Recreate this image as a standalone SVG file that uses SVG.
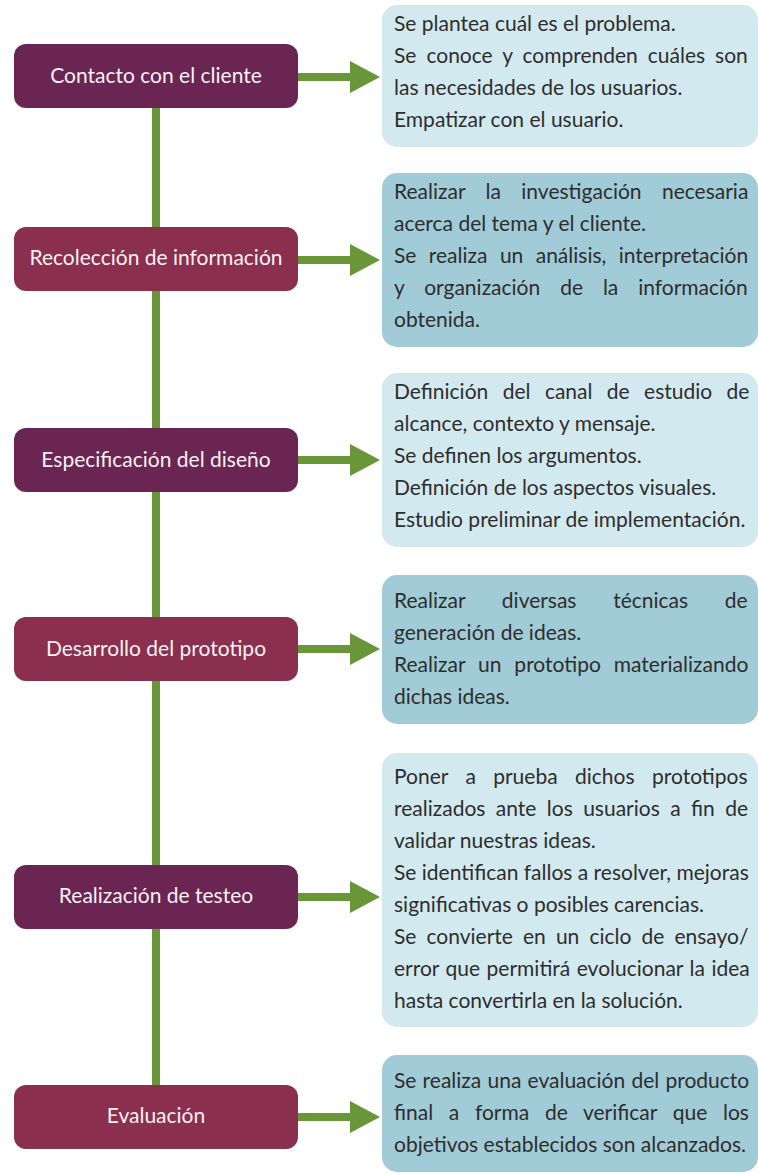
<svg xmlns="http://www.w3.org/2000/svg" width="758" height="1174" viewBox="0 0 758 1174">
<style>
.node{stroke:none}
.n1{fill:#6A2553}
.n2{fill:#8A2F4D}
.lbl{font-family:Lato,"Open Sans","Liberation Sans",sans-serif;font-size:21px;fill:#F7F1F4;text-anchor:middle}
.b1{fill:#D2E9F0}
.b2{fill:#A0CBD7}
.t{font-family:Lato,"Open Sans","Liberation Sans",sans-serif;font-size:21px;fill:#2E2E2E}
.con{fill:#6A963A}
</style>
<g id="connectors">
<rect class="con" x="152" y="100" width="8" height="990"/>
<rect class="con" x="296" y="73" width="56" height="8"/><polygon class="con" points="350,61 380,77 350,93"/>
<rect class="con" x="296" y="256" width="56" height="8"/><polygon class="con" points="350,244 380,260 350,276"/>
<rect class="con" x="296" y="456" width="56" height="8"/><polygon class="con" points="350,444 380,460 350,476"/>
<rect class="con" x="296" y="645" width="56" height="8"/><polygon class="con" points="350,633 380,649 350,665"/>
<rect class="con" x="296" y="893" width="56" height="8"/><polygon class="con" points="350,881 380,897 350,913"/>
<rect class="con" x="296" y="1113" width="56" height="8"/><polygon class="con" points="350,1101 380,1117 350,1133"/>
</g>
<g id="node1"><rect class="node n1" x="14" y="44" width="284" height="64" rx="12"/><text class="lbl" x="156" y="83">Contacto con el cliente</text></g>
<g id="node2"><rect class="node n2" x="14" y="227" width="284" height="64" rx="12"/><text class="lbl" x="156" y="265">Recolección de información</text></g>
<g id="node3"><rect class="node n1" x="14" y="428" width="284" height="64" rx="12"/><text class="lbl" x="156" y="467">Especificación del diseño</text></g>
<g id="node4"><rect class="node n2" x="14" y="617" width="284" height="64" rx="12"/><text class="lbl" x="156" y="656">Desarrollo del prototipo</text></g>
<g id="node5"><rect class="node n1" x="14" y="865" width="284" height="64" rx="12"/><text class="lbl" x="156" y="903">Realización de testeo</text></g>
<g id="node6"><rect class="node n2" x="14" y="1085" width="284" height="64" rx="12"/><text class="lbl" x="156" y="1123">Evaluación</text></g>

<g id="box1"><rect class="b1" x="382" y="5" width="376" height="142" rx="15"/>
<text class="t" x="394" y="31">Se plantea cuál es el problema.</text>
<text class="t" x="394" y="63" word-spacing="4.6"><tspan>Se</tspan> <tspan>conoce</tspan> <tspan>y</tspan> <tspan>comprenden</tspan> <tspan>cuáles</tspan> <tspan>son</tspan></text>
<text class="t" x="394" y="95">las necesidades de los usuarios.</text>
<text class="t" x="394" y="127">Empatizar con el usuario.</text>
</g>
<g id="box2"><rect class="b2" x="382" y="173" width="376" height="174" rx="15"/>
<text class="t" x="394" y="199" word-spacing="15"><tspan>Realizar</tspan> <tspan>la</tspan> <tspan>investigación</tspan> <tspan>necesaria</tspan></text>
<text class="t" x="394" y="231">acerca del tema y el cliente.</text>
<text class="t" x="394" y="263" word-spacing="7"><tspan>Se</tspan> <tspan>realiza</tspan> <tspan>un</tspan> <tspan>análisis,</tspan> <tspan>interpretación</tspan></text>
<text class="t" x="394" y="295" word-spacing="14.5"><tspan>y</tspan> <tspan>organización</tspan> <tspan>de</tspan> <tspan>la</tspan> <tspan>información</tspan></text>
<text class="t" x="394" y="327">obtenida.</text>
</g>
<g id="box3"><rect class="b1" x="382" y="373" width="376" height="174" rx="15"/>
<text class="t" x="394" y="399" word-spacing="9"><tspan>Definición</tspan> <tspan>del</tspan> <tspan>canal</tspan> <tspan>de</tspan> <tspan>estudio</tspan> <tspan>de</tspan></text>
<text class="t" x="394" y="431">alcance, contexto y mensaje.</text>
<text class="t" x="394" y="463">Se definen los argumentos.</text>
<text class="t" x="394" y="495">Definición de los aspectos visuales.</text>
<text class="t" x="394" y="527">Estudio preliminar de implementación.</text>
</g>
<g id="box4"><rect class="b2" x="382" y="575" width="376" height="149" rx="15"/>
<text class="t" x="394" y="608" word-spacing="31.3"><tspan>Realizar</tspan> <tspan>diversas</tspan> <tspan>técnicas</tspan> <tspan>de</tspan></text>
<text class="t" x="394" y="640">generación de ideas.</text>
<text class="t" x="394" y="672" word-spacing="7.5"><tspan>Realizar</tspan> <tspan>un</tspan> <tspan>prototipo</tspan> <tspan>materializando</tspan></text>
<text class="t" x="394" y="704">dichas ideas.</text>
</g>
<g id="box5"><rect class="b1" x="382" y="753" width="376" height="274" rx="15"/>
<text class="t" x="394" y="784" word-spacing="12"><tspan>Poner</tspan> <tspan>a</tspan> <tspan>prueba</tspan> <tspan>dichos</tspan> <tspan>prototipos</tspan></text>
<text class="t" x="394" y="816" word-spacing="5"><tspan>realizados</tspan> <tspan>ante</tspan> <tspan>los</tspan> <tspan>usuarios</tspan> <tspan>a</tspan> <tspan>fin</tspan> <tspan>de</tspan></text>
<text class="t" x="394" y="848">validar nuestras ideas.</text>
<text class="t" x="394" y="880">Se identifican fallos a resolver, mejoras</text>
<text class="t" x="394" y="912">significativas o posibles carencias.</text>
<text class="t" x="394" y="944" word-spacing="4.7"><tspan>Se</tspan> <tspan>convierte</tspan> <tspan>en</tspan> <tspan>un</tspan> <tspan>ciclo</tspan> <tspan>de</tspan> <tspan>ensayo/</tspan></text>
<text class="t" x="394" y="976" word-spacing="1.1"><tspan>error</tspan> <tspan>que</tspan> <tspan>permitirá</tspan> <tspan>evolucionar</tspan> <tspan>la</tspan> <tspan>idea</tspan></text>
<text class="t" x="394" y="1008">hasta convertirla en la solución.</text>
</g>
<g id="box6"><rect class="b2" x="382" y="1055" width="376" height="117" rx="15"/>
<text class="t" x="394" y="1088" word-spacing="0.8"><tspan>Se</tspan> <tspan>realiza</tspan> <tspan>una</tspan> <tspan>evaluación</tspan> <tspan>del</tspan> <tspan>producto</tspan></text>
<text class="t" x="394" y="1120" word-spacing="10.3"><tspan>final</tspan> <tspan>a</tspan> <tspan>forma</tspan> <tspan>de</tspan> <tspan>verificar</tspan> <tspan>que</tspan> <tspan>los</tspan></text>
<text class="t" x="394" y="1152">objetivos establecidos son alcanzados.</text>
</g>
</svg>
